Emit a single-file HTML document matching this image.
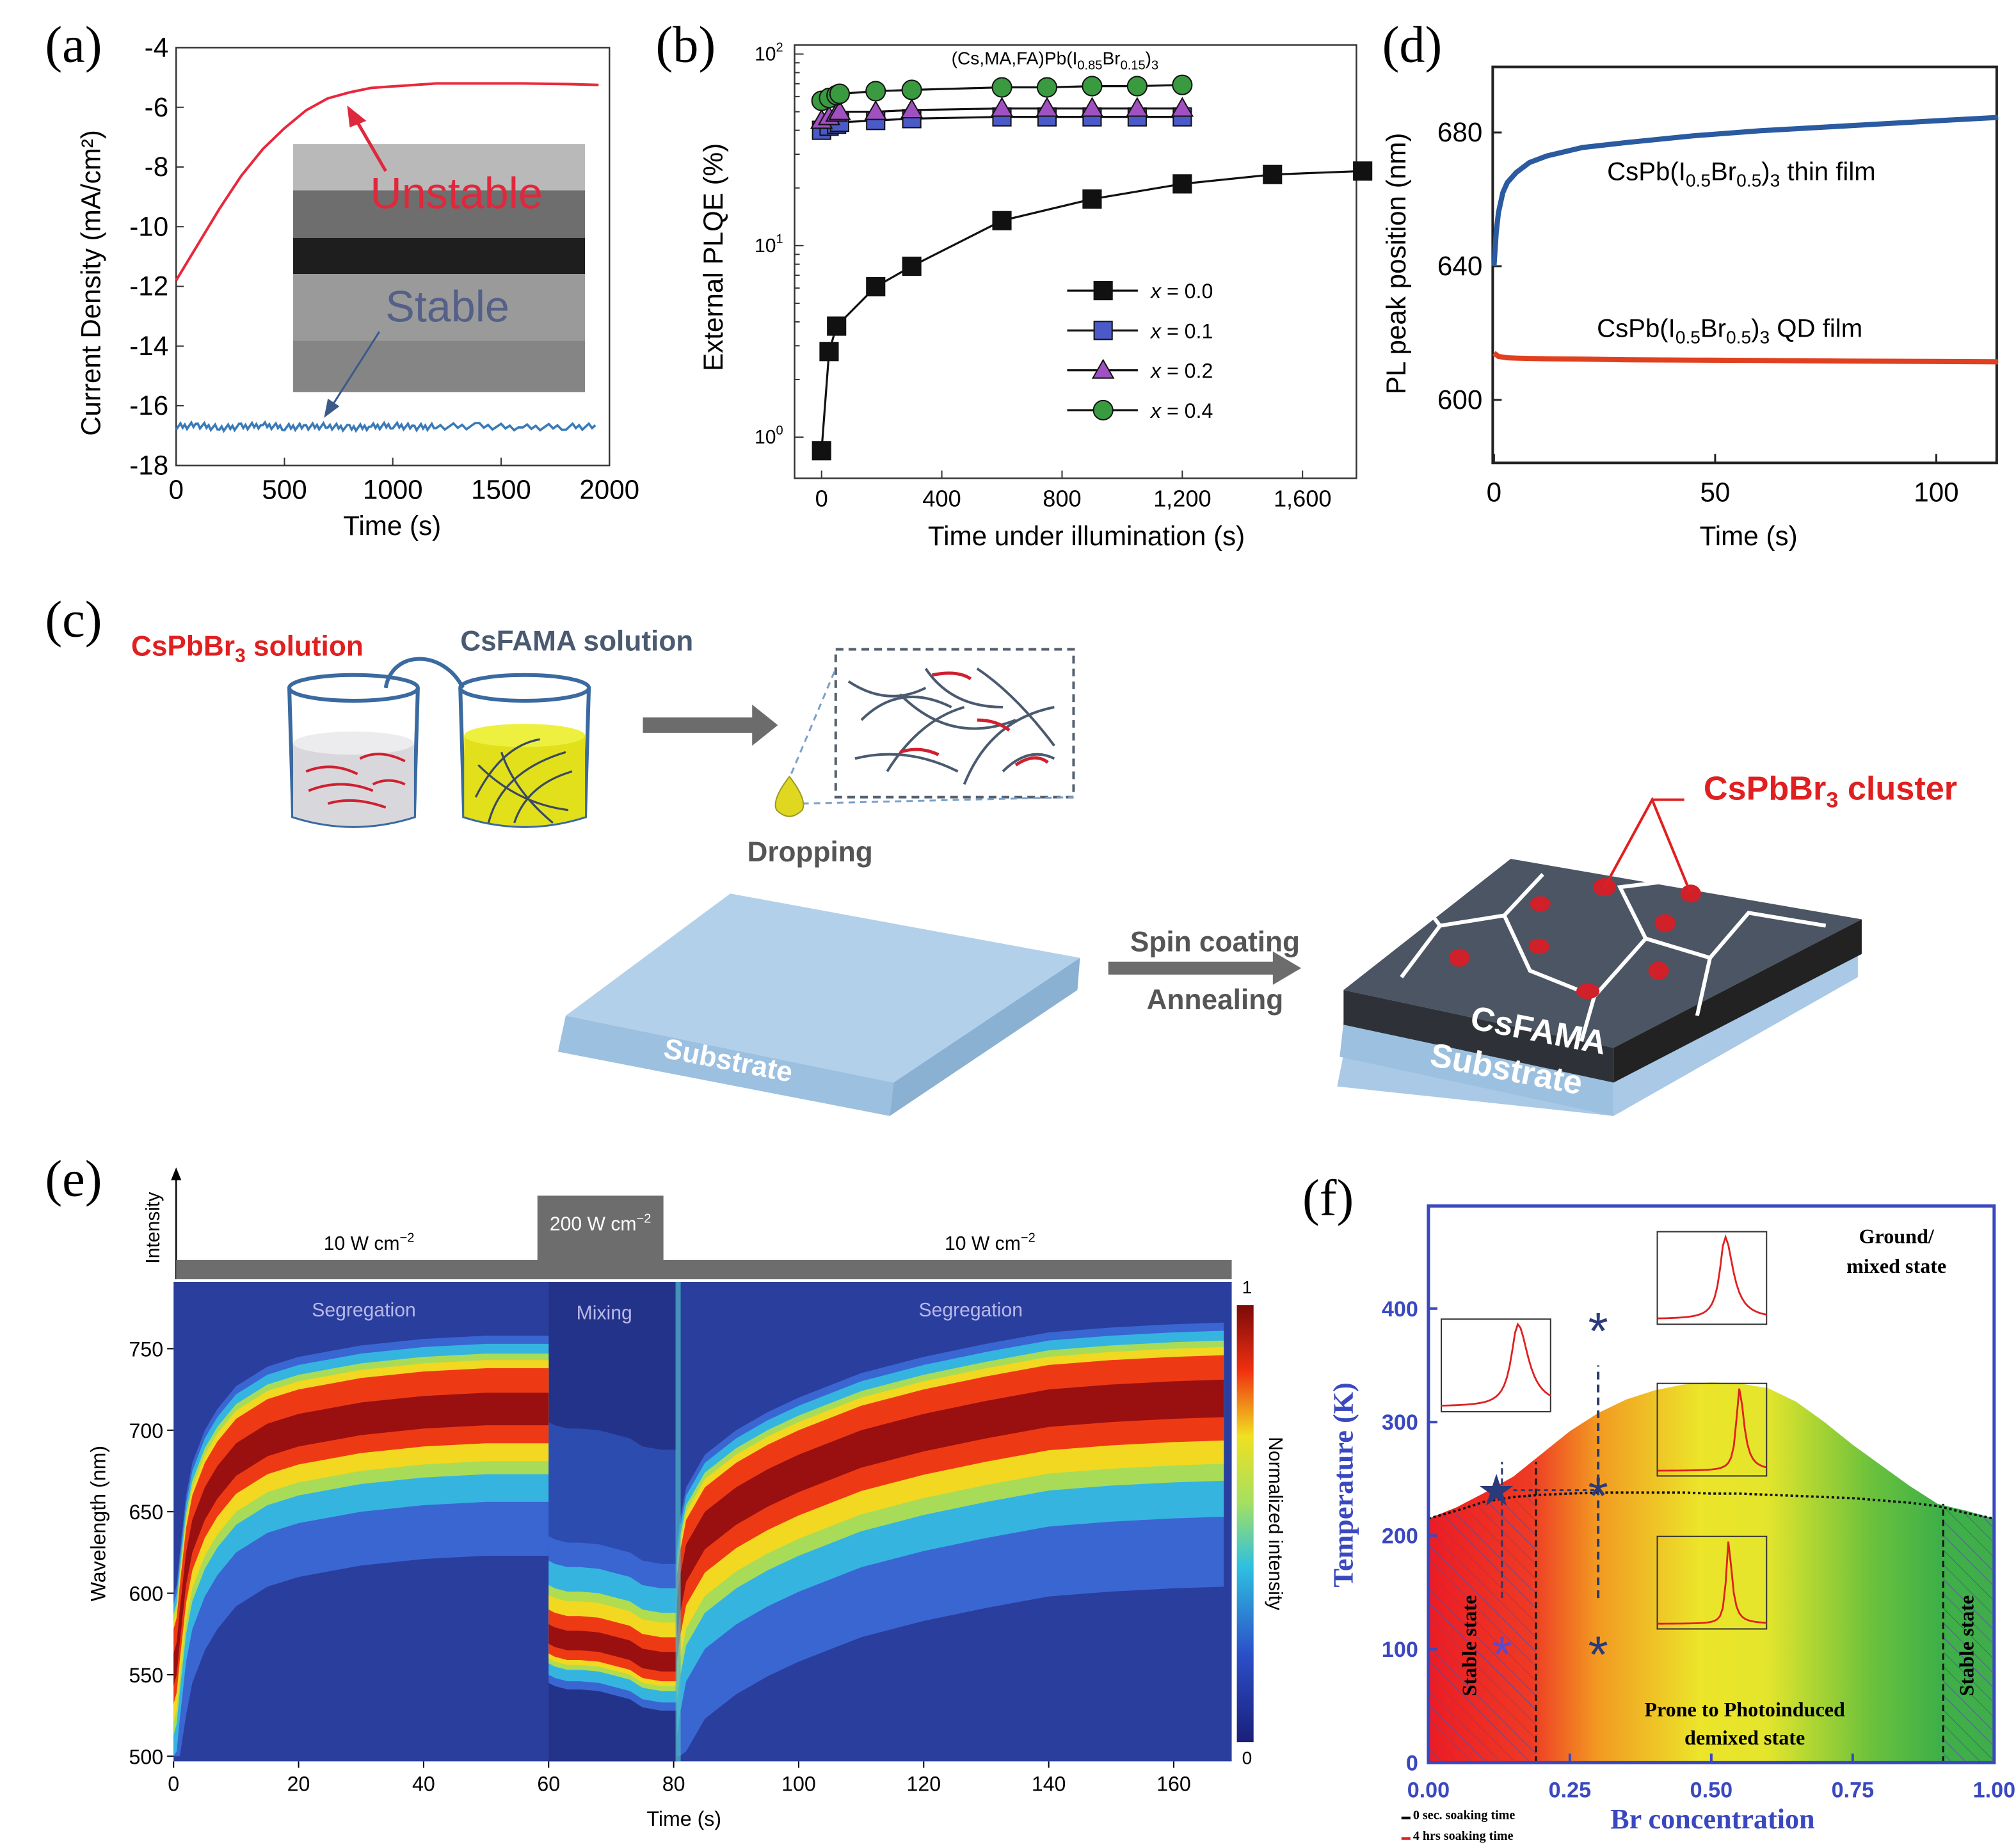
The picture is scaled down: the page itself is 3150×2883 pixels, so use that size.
<!DOCTYPE html>
<html><head><meta charset="utf-8">
<style>
html,body{margin:0;padding:0;background:#fff;}
svg{display:block;}
text{font-family:"Liberation Sans",sans-serif;}
.serif{font-family:"Liberation Serif",serif;}
</style></head>
<body>
<svg id="fig" width="3150" height="2883" viewBox="0 0 1568 1435" xmlns="http://www.w3.org/2000/svg">
<defs>
<linearGradient id="fgrad" x1="0" x2="1" y1="0" y2="0">
<stop offset="0" stop-color="#ec1c24"/><stop offset="0.18" stop-color="#ee3a24"/><stop offset="0.3" stop-color="#f29a22"/><stop offset="0.48" stop-color="#ece52a"/><stop offset="0.6" stop-color="#e3e52c"/><stop offset="0.78" stop-color="#6cc23c"/><stop offset="0.9" stop-color="#3fb048"/><stop offset="1" stop-color="#3fae4a"/>
</linearGradient>
<linearGradient id="cbar" x1="0" x2="0" y1="1" y2="0">
<stop offset="0" stop-color="#1b1f7a"/><stop offset="0.2" stop-color="#2b4fc8"/><stop offset="0.4" stop-color="#2ec0e0"/><stop offset="0.55" stop-color="#a6e060"/><stop offset="0.7" stop-color="#f0e020"/><stop offset="0.85" stop-color="#f03010"/><stop offset="1" stop-color="#7a0a0a"/>
</linearGradient>
<pattern id="hatch" width="8" height="8" patternUnits="userSpaceOnUse" patternTransform="rotate(-45)"><line x1="0" y1="0" x2="0" y2="8" stroke="#5a4aa0" stroke-width="0.8"/></pattern>
</defs>

<!-- PANEL A -->
<g>
<text class="serif" x="35" y="48" font-size="40">(a)</text>
<rect x="137" y="37" width="337" height="325" fill="none" stroke="#333" stroke-width="1.2"/>
<g id="aInset">
<rect x="228" y="112" width="227" height="36" fill="#b9b9b9"/>
<rect x="228" y="148" width="227" height="37" fill="#6e6e6e"/>
<rect x="228" y="185" width="227" height="28" fill="#1e1e1e"/>
<rect x="228" y="213" width="227" height="52" fill="#9a9a9a"/>
<rect x="228" y="265" width="227" height="40" fill="#858585"/>
</g>
<g id="aAxes"></g>
<g id="aSeries"></g>
<text x="355" y="162" font-size="34" fill="#e0283c" text-anchor="middle">Unstable</text>
<text x="348" y="250" font-size="34" fill="#556088" text-anchor="middle">Stable</text>
<line x1="300" y1="133" x2="278" y2="95" stroke="#e0283c" stroke-width="2.5"/>
<polygon points="270,82 285,94 272,99" fill="#e0283c"/>
<line x1="295" y1="258" x2="258" y2="316" stroke="#3a5a8a" stroke-width="1.5"/>
<polygon points="252,325 255,310 264,316" fill="#3a5a8a"/>
<text x="305" y="416" font-size="21" text-anchor="middle">Time (s)</text>
<text transform="translate(78,220) rotate(-90)" font-size="21" text-anchor="middle">Current Density (mA/cm²)</text>
</g>

<!-- PANEL B -->
<g>
<text class="serif" x="510" y="48" font-size="40">(b)</text>
<rect x="618" y="35" width="437" height="337" fill="none" stroke="#333" stroke-width="1.2"/>
<g id="bAxes"></g>
<g id="bSeries"></g>
<text x="740" y="50" font-size="14">(Cs,MA,FA)Pb(I<tspan font-size="10" dy="4">0.85</tspan><tspan dy="-4">Br</tspan><tspan font-size="10" dy="4">0.15</tspan><tspan dy="-4">)</tspan><tspan font-size="10" dy="4">3</tspan></text>
<g id="bLegend"></g>
<text x="845" y="424" font-size="21" text-anchor="middle">Time under illumination (s)</text>
<text transform="translate(562,200) rotate(-90)" font-size="21" text-anchor="middle">External PLQE (%)</text>
</g>

<!-- PANEL D -->
<g>
<text class="serif" x="1075" y="48" font-size="40">(d)</text>
<rect x="1161" y="52" width="392" height="308" fill="none" stroke="#222" stroke-width="2"/>
<g id="dAxes"></g>
<g id="dSeries"></g>
<text x="1250" y="140" font-size="20">CsPb(I<tspan font-size="14" dy="5">0.5</tspan><tspan dy="-5">Br</tspan><tspan font-size="14" dy="5">0.5</tspan><tspan dy="-5">)</tspan><tspan font-size="14" dy="5">3</tspan><tspan dy="-5"> thin film</tspan></text>
<text x="1242" y="262" font-size="20">CsPb(I<tspan font-size="14" dy="5">0.5</tspan><tspan dy="-5">Br</tspan><tspan font-size="14" dy="5">0.5</tspan><tspan dy="-5">)</tspan><tspan font-size="14" dy="5">3</tspan><tspan dy="-5"> QD film</tspan></text>
<text x="1360" y="424" font-size="21" text-anchor="middle">Time (s)</text>
<text transform="translate(1093,205) rotate(-90)" font-size="21" text-anchor="middle">PL peak position (nm)</text>
</g>

<!-- PANEL C -->
<g>
<text class="serif" x="35" y="495" font-size="40">(c)</text>
<text x="102" y="510" font-size="22" font-weight="bold" fill="#e02020">CsPbBr<tspan font-size="15" dy="5">3</tspan><tspan dy="-5"> solution</tspan></text>
<text x="358" y="506" font-size="22" font-weight="bold" fill="#4a5a70">CsFAMA solution</text>
<path d="M300,535 C305,505 345,505 360,535" fill="none" stroke="#3a6aa0" stroke-width="3"/>
<g>
<path d="M225,535 L228,635 Q275,650 322,635 L325,535" fill="none" stroke="#3a6aa0" stroke-width="3"/>
<path d="M228,578 Q275,590 322,578 L322,635 Q275,650 228,635 Z" fill="#d8d8dc"/>
<ellipse cx="275" cy="578" rx="47" ry="9" fill="#ececef"/>
<path d="M238,600 q20,-8 40,2 M240,615 q25,-10 50,0 M255,625 q20,-6 45,3 M280,590 q15,-8 35,2 M290,610 q12,-6 25,0" stroke="#d02030" stroke-width="2" fill="none"/>
<ellipse cx="275" cy="535" rx="50" ry="10" fill="none" stroke="#3a6aa0" stroke-width="3"/>
</g>
<g>
<path d="M358,535 L361,635 Q408,650 455,635 L458,535" fill="none" stroke="#3a6aa0" stroke-width="3"/>
<path d="M361,572 Q408,584 455,572 L455,635 Q408,650 361,635 Z" fill="#e2e01a"/>
<ellipse cx="408" cy="572" rx="47" ry="9" fill="#eef040"/>
<path d="M370,620 q20,-40 50,-45 M380,640 q10,-40 60,-55 M400,640 q10,-30 45,-40 M372,595 q30,30 70,35 M390,585 q10,30 40,55" stroke="#3a4a60" stroke-width="1.6" fill="none"/>
<ellipse cx="408" cy="535" rx="50" ry="10" fill="none" stroke="#3a6aa0" stroke-width="3"/>
</g>
<polygon points="500,558 585,558 585,548 605,564 585,580 585,570 500,570" fill="#6c6c6c"/>
<rect x="650" y="505" width="185" height="115" fill="none" stroke="#556070" stroke-width="2" stroke-dasharray="6,4"/>
<path d="M660,530 q30,20 60,5 M670,560 q30,-30 70,-10 M690,600 q25,-40 60,-50 M720,520 q20,30 60,30 M750,610 q20,-50 70,-60 M665,590 q40,-10 80,10 M700,540 q40,40 90,20 M760,520 q30,20 60,60 M780,600 q20,-20 40,-10" stroke="#4a5a70" stroke-width="2" fill="none"/>
<path d="M700,585 q15,-5 30,2 M725,525 q20,-4 30,3 M790,595 q15,-10 25,-2 M760,560 q15,0 25,8" stroke="#d02030" stroke-width="2.5" fill="none"/>
<line x1="612" y1="610" x2="650" y2="520" stroke="#7aa0c8" stroke-width="1.5" stroke-dasharray="5,4"/>
<line x1="624" y1="625" x2="835" y2="620" stroke="#7aa0c8" stroke-width="1.5" stroke-dasharray="5,4"/>
<path d="M614,604 Q600,622 604,630 Q614,640 624,630 Q628,622 614,604Z" fill="#e0d820" stroke="#9a9a20"/>
<text x="630" y="670" font-size="22" font-weight="bold" fill="#555" text-anchor="middle">Dropping</text>
<g>
<polygon points="440,790 568,695 840,745 695,842" fill="#b3d0ea"/>
<polygon points="440,790 695,842 692,868 434,818" fill="#9cc0e0"/>
<polygon points="695,842 840,745 838,770 692,868" fill="#8ab0d2"/>
<text transform="translate(565,832) rotate(11)" font-size="22" font-weight="bold" fill="#fff" text-anchor="middle">Substrate</text>
</g>
<text x="945" y="740" font-size="22" font-weight="bold" fill="#555" text-anchor="middle">Spin coating</text>
<polygon points="862,748 990,748 990,740 1012,753 990,766 990,758 862,758" fill="#6c6c6c"/>
<text x="945" y="785" font-size="22" font-weight="bold" fill="#555" text-anchor="middle">Annealing</text>
<g>
<polygon points="1045,820 1255,865 1255,840 1445,740 1445,760 1255,868 1040,845" fill="#a9c9e6"/>
<polygon points="1045,795 1255,840 1255,868 1042,822" fill="#9cc0e0"/>
<polygon points="1045,770 1175,668 1448,715 1255,815" fill="#4b5563"/>
<polygon points="1045,770 1255,815 1255,842 1045,797" fill="#2e3238"/>
<polygon points="1255,815 1448,715 1448,742 1255,842" fill="#222"/>
<path d="M1090,760 L1120,720 L1170,712 L1200,680 M1170,712 L1190,755 L1240,775 L1280,730 L1330,745 L1360,710 L1420,720 M1280,730 L1260,690 L1300,685 M1240,775 L1230,810 M1330,745 L1320,790 M1120,720 L1105,700" stroke="#fff" stroke-width="3" fill="none"/>
<g fill="#d0202a"><ellipse cx="1248" cy="690" rx="9" ry="7"/><ellipse cx="1315" cy="695" rx="8" ry="7"/><ellipse cx="1198" cy="703" rx="8" ry="6"/><ellipse cx="1295" cy="718" rx="8" ry="7"/><ellipse cx="1135" cy="745" rx="8" ry="7"/><ellipse cx="1197" cy="736" rx="8" ry="6"/><ellipse cx="1290" cy="755" rx="8" ry="7"/><ellipse cx="1235" cy="771" rx="9" ry="6"/></g>
<path d="M1248,690 L1285,622 L1315,695 M1285,622 L1310,622" stroke="#e02020" stroke-width="2" fill="none"/>
<text transform="translate(1195,810) rotate(11)" font-size="26" font-weight="bold" fill="#fff" text-anchor="middle">CsFAMA</text>
<text transform="translate(1170,840) rotate(11)" font-size="26" font-weight="bold" fill="#fff" text-anchor="middle">Substrate</text>
</g>
<text x="1325" y="622" font-size="26" font-weight="bold" fill="#e02020">CsPbBr<tspan font-size="17" dy="6">3</tspan><tspan dy="-6"> cluster</tspan></text>
</g>

<!-- PANEL E -->
<g>
<text class="serif" x="35" y="930" font-size="40">(e)</text>
<line x1="137" y1="995" x2="137" y2="912" stroke="#000" stroke-width="1.2"/>
<polygon points="133,918 137,908 141,918" fill="#000"/>
<text transform="translate(124,955) rotate(-90)" font-size="15" text-anchor="middle">Intensity</text>
<polygon points="137,980 418,980 418,930 516,930 516,980 958,980 958,995 137,995" fill="#6d6d6d"/>
<text x="287" y="972" font-size="15" text-anchor="middle">10 W cm<tspan font-size="10" dy="-6">−2</tspan></text>
<text x="467" y="957" font-size="15" fill="#fff" text-anchor="middle">200 W cm<tspan font-size="10" dy="-6">−2</tspan></text>
<text x="770" y="972" font-size="15" text-anchor="middle">10 W cm<tspan font-size="10" dy="-6">−2</tspan></text>
<g id="eHeat"></g>
<g id="eAxes"></g>
<text x="283" y="1024" font-size="15" fill="#b8b8e8" text-anchor="middle">Segregation</text>
<text x="470" y="1026" font-size="15" fill="#b8b8e8" text-anchor="middle">Mixing</text>
<text x="755" y="1024" font-size="15" fill="#b8b8e8" text-anchor="middle">Segregation</text>
<rect x="962" y="1015" width="13" height="340" fill="url(#cbar)"/>
<text x="966" y="1006" font-size="14">1</text>
<text x="966" y="1372" font-size="14">0</text>
<text transform="translate(987,1185) rotate(90)" font-size="15" text-anchor="middle">Normalized intensity</text>
<text x="532" y="1420" font-size="16" text-anchor="middle">Time (s)</text>
<text transform="translate(82,1185) rotate(-90)" font-size="16" text-anchor="middle">Wavelength (nm)</text>
</g>

<!-- PANEL F -->
<g>
<text class="serif" x="1013" y="945" font-size="40">(f)</text>
<g id="fPlot"></g>
<rect x="1111" y="938" width="440" height="433" fill="none" stroke="#3a48c0" stroke-width="2.5"/>
<g id="fAxes"></g>
<text class="serif" x="1475" y="967" font-size="16" font-weight="bold" text-anchor="middle">Ground/</text>
<text class="serif" x="1475" y="990" font-size="16" font-weight="bold" text-anchor="middle">mixed state</text>
<text class="serif" x="1357" y="1335" font-size="16" font-weight="bold" text-anchor="middle">Prone to Photoinduced</text>
<text class="serif" x="1357" y="1357" font-size="16" font-weight="bold" text-anchor="middle">demixed state</text>
<text class="serif" transform="translate(1148,1280) rotate(-90)" font-size="16" font-weight="bold" text-anchor="middle">Stable state</text>
<text class="serif" transform="translate(1535,1280) rotate(-90)" font-size="16" font-weight="bold" text-anchor="middle">Stable state</text>
<text class="serif" x="1332" y="1422" font-size="22" font-weight="bold" fill="#3a48c0" text-anchor="middle">Br concentration</text>
<text class="serif" transform="translate(1052,1155) rotate(-90)" font-size="22" font-weight="bold" fill="#3a48c0" text-anchor="middle">Temperature (K)</text>
<line x1="1090" y1="1414" x2="1097" y2="1414" stroke="#000" stroke-width="2"/>
<text class="serif" x="1099" y="1415" font-size="10" font-weight="bold">0 sec. soaking time</text>
<line x1="1090" y1="1430" x2="1097" y2="1430" stroke="#e02020" stroke-width="2"/>
<text class="serif" x="1099" y="1431" font-size="10" font-weight="bold">4 hrs soaking time</text>
</g>
</svg>

<script>
var NS="http://www.w3.org/2000/svg";
function mk(parent,tag,attrs){var e=document.createElementNS(NS,tag);for(var k in attrs)e.setAttribute(k,attrs[k]);parent.appendChild(e);return e;}
function tx(parent,x,y,s,size,anchor,extra){var a={x:x,y:y,'font-size':size,'text-anchor':anchor||'middle'};if(extra){for(var k in extra)a[k]=extra[k];}var e=mk(parent,'text',a);e.textContent=s;return e;}

// ===== Panel A data =====
var aTime=[0,100,200,300,400,500,600,700,800,900,1000,1100,1200,1400,1600,1800,1950];
var aUnstable=[-11.8,-10.6,-9.4,-8.3,-7.4,-6.7,-6.1,-5.7,-5.5,-5.35,-5.3,-5.25,-5.2,-5.2,-5.2,-5.22,-5.25];
var aStable=[-16.7,-16.65,-16.75,-16.7,-16.65,-16.72,-16.7,-16.68,-16.75,-16.7,-16.66,-16.72,-16.7,-16.68,-16.73,-16.7,-16.7];
var aXTicks=[0,500,1000,1500,2000];
var aYTicks=[-4,-6,-8,-10,-12,-14,-16,-18];
function ax(v){return 137+v/2000*337;}
function ay(v){return 37+(-4-v)/14*325;}
(function(){
var g=document.getElementById('aAxes');
aXTicks.forEach(function(t){mk(g,'line',{x1:ax(t),x2:ax(t),y1:362,y2:356,stroke:'#333'});
var e=tx(g,ax(t),388,String(t),21);

});
aYTicks.forEach(function(t){mk(g,'line',{x1:137,x2:143,y1:ay(t),y2:ay(t),stroke:'#333'});
var e=tx(g,131,ay(t)+7,String(t),21,'end');

});
var s=document.getElementById('aSeries');
var p=aTime.map(function(t,i){return ax(t)+','+ay(aUnstable[i]);}).join(' ');
var l1=mk(s,'polyline',{points:p,fill:'none',stroke:'#e8283c','stroke-width':2});


var pts=[];aTime.forEach(function(t,i){if(i<aTime.length-1){for(var k=0;k<10;k++){var tt=t+(aTime[i+1]-t)*k/10;var v=aStable[i]+(aStable[i+1]-aStable[i])*k/10+((k*7+i*3)%5-2)*0.05;pts.push(ax(tt)+','+ay(v));}}});
var l2=mk(s,'polyline',{points:pts.join(' '),fill:'none',stroke:'#3a7ab8','stroke-width':1.8});


})();

// ===== Panel B data =====
var bTime0=[0,25,50,180,300,600,900,1200,1500,1800];
var bX00=[0.85,2.8,3.8,6.1,7.8,13.5,17.5,21,23.5,24.5];
var bTimeM=[0,25,50,60,180,300,600,750,900,1050,1200];
var bX01=[40,42,43,44,45,46,47,47,47,47,47];
var bX02=[45,47,49,50,50,51,52,52,52,52,52];
var bX04=[57,59,61,62,64,65,67,67,68,68,69];
var bXTicks=[0,400,800,1200,1600];
var bXTickLabels=['0','400','800','1,200','1,600'];
var bYTicks=[1,10,100];
var bYTickLabels=['0','1','2'];
function bx(v){return 639+v*0.2338;}
function by(v){return 340-Math.log10(v)*149;}
(function(){
var g=document.getElementById('bAxes');
bXTicks.forEach(function(t,i){mk(g,'line',{x1:bx(t),x2:bx(t),y1:372,y2:366,stroke:'#333'});
var e=tx(g,bx(t),394,bXTickLabels[i],18);

});
bYTicks.forEach(function(t,i){mk(g,'line',{x1:618,x2:625,y1:by(t),y2:by(t),stroke:'#333'});
if(t<100){for(var m=2;m<10;m++){mk(g,'line',{x1:618,x2:622,y1:by(t*m),y2:by(t*m),stroke:'#333'});}}
var e=mk(g,'text',{x:598,y:by(t)+5,'font-size':15,'text-anchor':'middle'});e.textContent='10';
var s=mk(e,'tspan',{'font-size':10,dy:-7});s.textContent=bYTickLabels[i];

});
var S=document.getElementById('bSeries');
function marker(P,x,y,col,shape){
if(shape=='s')return mk(P,'rect',{x:x-7,y:y-7,width:14,height:14,fill:col,stroke:'#111'});
if(shape=='t')return mk(P,'polygon',{points:(x-8)+','+(y+6)+' '+(x+8)+','+(y+6)+' '+x+','+(y-8),fill:col,stroke:'#111'});
return mk(P,'circle',{cx:x,cy:y,r:7.5,fill:col,stroke:'#111'});}
function series(ts,vs,col,shape,name){
var l=mk(S,'polyline',{points:ts.map(function(t,i){return bx(t)+','+by(vs[i]);}).join(' '),fill:'none',stroke:'#111','stroke-width':1.6});


ts.forEach(function(t,i){var m=marker(S,bx(t),by(vs[i]),col,shape);

});}
series(bTime0,bX00,'#111','s','x00');
series(bTimeM,bX01,'#4a5ac8','s','x01');
series(bTimeM,bX02,'#a050c0','t','x02');
series(bTimeM,bX04,'#3a9a40','c','x04');
var L=document.getElementById('bLegend');
var items=[['#111','s','0.0'],['#4a5ac8','s','0.1'],['#a050c0','t','0.2'],['#3a9a40','c','0.4']];
items.forEach(function(it,i){var y=226+i*31;mk(L,'line',{x1:830,x2:885,y1:y,y2:y,stroke:'#111','stroke-width':1.6});
marker(L,858,y,it[0],it[1]);
var t=mk(L,'text',{x:895,y:y+6,'font-size':16});
var ts=mk(t,'tspan',{'font-style':'italic'});ts.textContent='x';
var ts2=mk(t,'tspan',{});ts2.textContent=' = '+it[2];});
})();

// ===== Panel D data =====
var dTime=[0,0.5,1,2,3,5,8,12,20,30,45,60,80,100,114];
var dThin=[640,650,656,662,665,668,671,673,675.5,677,679,680.5,682,683.5,684.5];
var dQD=[614,613.5,613,612.8,612.6,612.5,612.4,612.3,612.2,612,611.9,611.8,611.6,611.5,611.4];
var dXTicks=[0,50,100];
var dYTicks=[600,640,680];
function dx(v){return 1162+v*3.44;}
function dy(v){return 311-(v-600)*2.6;}
(function(){
var g=document.getElementById('dAxes');
dXTicks.forEach(function(t){mk(g,'line',{x1:dx(t),x2:dx(t),y1:360,y2:353,stroke:'#222','stroke-width':1.5});
var e=tx(g,dx(t),390,String(t),21);

});
dYTicks.forEach(function(t){mk(g,'line',{x1:1161,x2:1168,y1:dy(t),y2:dy(t),stroke:'#222','stroke-width':1.5});
var e=tx(g,1153,dy(t)+7,String(t),21,'end');

});
var S=document.getElementById('dSeries');
var l1=mk(S,'polyline',{points:dTime.map(function(t,i){return dx(t)+','+dy(dThin[i]);}).join(' '),fill:'none',stroke:'#2a5aa0','stroke-width':4});


var l2=mk(S,'polyline',{points:dTime.map(function(t,i){return dx(t)+','+dy(dQD[i]);}).join(' '),fill:'none',stroke:'#e04020','stroke-width':4});


})();

// ===== Panel E data =====
var eTimeSeg1=[0,0.5,1,2,3,5,7,10,15,20,30,40,50,60];
var ePeakSeg1=[553,560,580,615,635,655,668,682,694,700,707,711,713,713];
var eTimeMix=[60,61,63,65,68,70,73,75,78,80.5];
var ePeakMix=[575,573,571,571,570,568,565,560,558,558];
var eTimeSeg2=[80.5,81,82,85,90,95,100,110,120,130,140,150,160,168];
var ePeakSeg2=[585,600,620,640,655,666,675,690,700,708,715,718,720,721];
var eXTicks=[0,20,40,60,80,100,120,140,160];
var eYTicks=[500,550,600,650,700,750];
function ex(v){return 135+v*4.862;}
function ey(v){return 1366-(v-500)*1.268;}
(function(){
var H=document.getElementById('eHeat');
mk(H,'rect',{x:135,y:997,width:823,height:373,fill:'#2a3e9e'});
mk(H,'rect',{x:ex(60),y:997,width:ex(80.5)-ex(60),height:373,fill:'#24338a'});
// layers: [lowerWidth, upperWidth, colour]
var segLayers=[[90,45,'#3a66d2'],[57,40,'#35b4e0'],[40,34,'#a8dc58'],[32,30,'#f2d820'],[21,25,'#ee3a14'],[10,10,'#9a1010']];
var mixLayers=[[30,130,'#2d4cb0'],[30,60,'#3a66d2'],[25,45,'#35b4e0'],[18,30,'#b0dc50'],[15,24,'#f2d820'],[12,15,'#ee3a14'],[6,6,'#9a1010']];
function band(ts,ps,layers,lowScale){
layers.forEach(function(L){
var up=[],dn=[];
for(var i=0;i<ts.length;i++){
up.push(ex(ts[i])+','+ey(Math.min(ps[i]+L[1],787)));
dn.unshift(ex(ts[i])+','+ey(Math.max(ps[i]-L[0]*lowScale,500)));}
var p=mk(H,'polygon',{points:up.concat(dn).join(' '),fill:L[2]});


});}
band(eTimeSeg1,ePeakSeg1,segLayers,1);
band(eTimeMix,ePeakMix,mixLayers,1);
band(eTimeSeg2,ePeakSeg2,segLayers,1.3);
mk(H,'rect',{x:ex(80.3),y:997,width:4,height:373,fill:'#50b8c8',opacity:0.7});
var A=document.getElementById('eAxes');
eXTicks.forEach(function(t){mk(A,'line',{x1:ex(t),x2:ex(t),y1:1370,y2:1375,stroke:'#000'});
var e=tx(A,ex(t),1393,String(t),16);

});
eYTicks.forEach(function(t){mk(A,'line',{x1:130,x2:135,y1:ey(t),y2:ey(t),stroke:'#000'});
var e=tx(A,127,ey(t)+6,String(t),16,'end');

});
})();

// ===== Panel F data =====
var fBr=[0,0.05,0.1,0.15,0.2,0.25,0.3,0.35,0.4,0.45,0.5,0.55,0.6,0.65,0.7,0.75,0.8,0.85,0.9,0.95,1];
var fDome=[215,225,238,252,272,292,308,320,328,333,335,334,330,318,300,280,262,244,228,222,215];
var fDotted=[215,222,230,234,236,237,238,238,238,238,237,237,236,235,234,233,231,229,226,220,215];
var fXTicks=[0,0.25,0.5,0.75,1];
var fXTickLabels=['0.00','0.25','0.50','0.75','1.00'];
var fYTicks=[0,100,200,300,400];
function fx(v){return 1111+v*440;}
function fy(v){return 1371-v*0.883;}
(function(){
var P=document.getElementById('fPlot');
var pts=fBr.map(function(b,i){return fx(b)+','+fy(fDome[i]);});
var dome=mk(P,'polygon',{points:pts.join(' ')+' '+fx(1)+','+fy(0)+' '+fx(0)+','+fy(0),fill:'url(#fgrad)'});


var lp=[];for(var i=0;i<fBr.length;i++){if(fBr[i]<=0.2)lp.push(fx(Math.min(fBr[i],0.19))+','+fy(fDotted[i]));}
mk(P,'polygon',{points:lp.join(' ')+' '+fx(0.19)+','+fy(0)+' '+fx(0)+','+fy(0),fill:'url(#hatch)'});
var rp=[];for(var j=0;j<fBr.length;j++){if(fBr[j]>=0.9)rp.push(fx(Math.max(fBr[j],0.91))+','+fy(fDotted[j]));}
mk(P,'polygon',{points:rp.join(' ')+' '+fx(1)+','+fy(0)+' '+fx(0.91)+','+fy(0),fill:'url(#hatch)'});
var dl=mk(P,'polyline',{points:fBr.map(function(b,i){return fx(b)+','+fy(fDotted[i]);}).join(' '),fill:'none',stroke:'#111','stroke-width':1.8,'stroke-dasharray':'2,2'});


mk(P,'line',{x1:fx(0.19),x2:fx(0.19),y1:fy(0),y2:fy(265),stroke:'#111','stroke-width':1.5,'stroke-dasharray':'5,3'});
mk(P,'line',{x1:fx(0.91),x2:fx(0.91),y1:fy(0),y2:fy(228),stroke:'#111','stroke-width':1.5,'stroke-dasharray':'5,3'});
mk(P,'line',{x1:fx(0.13),x2:fx(0.13),y1:fy(145),y2:fy(265),stroke:'#2a3a6a','stroke-width':1.5,'stroke-dasharray':'5,3'});
mk(P,'line',{x1:fx(0.3),x2:fx(0.3),y1:fy(145),y2:fy(350),stroke:'#2a3a6a','stroke-width':2,'stroke-dasharray':'6,4'});
mk(P,'line',{x1:fx(0.15),x2:fx(0.3),y1:fy(240),y2:fy(240),stroke:'#2a3a6a','stroke-width':1.5,'stroke-dasharray':'3,3'});
tx(P,fx(0.12),fy(240)+12,'★',34,'middle',{fill:'#2a3a7a'});
tx(P,fx(0.13),fy(100)+18,'*',40,'middle',{fill:'#5a4ad0'});
tx(P,fx(0.3),fy(100)+18,'*',40,'middle',{fill:'#2a3a7a'});
tx(P,fx(0.3),fy(240)+18,'*',40,'middle',{fill:'#2a3a7a'});
tx(P,fx(0.3),fy(385)+18,'*',40,'middle',{fill:'#2a3a7a'});
function inset(x,y,w,h,peak,wid,name){var g=mk(P,'g',{});


mk(g,'rect',{x:x,y:y,width:w,height:h,fill:'none',stroke:'#333','stroke-width':1});
var p=[];for(var i=0;i<=40;i++){var u=i/40;var d=(u-peak)/wid;var v=1/(1+d*d*(d>0?0.6:1.5));p.push((x+u*w)+','+(y+h-4-v*(h-8)));}
mk(g,'polyline',{points:p.join(' '),fill:'none',stroke:'#e02020','stroke-width':1.4});}
inset(1121,1026,85,72,0.7,0.09,'inset-1');
inset(1289,958,85,72,0.62,0.07,'inset-2');
inset(1289,1076,85,72,0.75,0.04,'inset-3');
inset(1289,1195,85,72,0.65,0.03,'inset-4');
var A=document.getElementById('fAxes');
fXTicks.forEach(function(t,i){mk(A,'line',{x1:fx(t),x2:fx(t),y1:1371,y2:1364,stroke:'#3a48c0','stroke-width':2});
var e=tx(A,fx(t),1398,fXTickLabels[i],17,'middle',{'font-weight':'bold',fill:'#3a48c0','font-family':'Liberation Serif'});

});
fYTicks.forEach(function(t){mk(A,'line',{x1:1111,x2:1118,y1:fy(t),y2:fy(t),stroke:'#3a48c0','stroke-width':2});
var e=tx(A,1103,fy(t)+6,String(t),17,'end',{'font-weight':'bold',fill:'#3a48c0','font-family':'Liberation Serif'});

});
})();
</script>
</body></html>
